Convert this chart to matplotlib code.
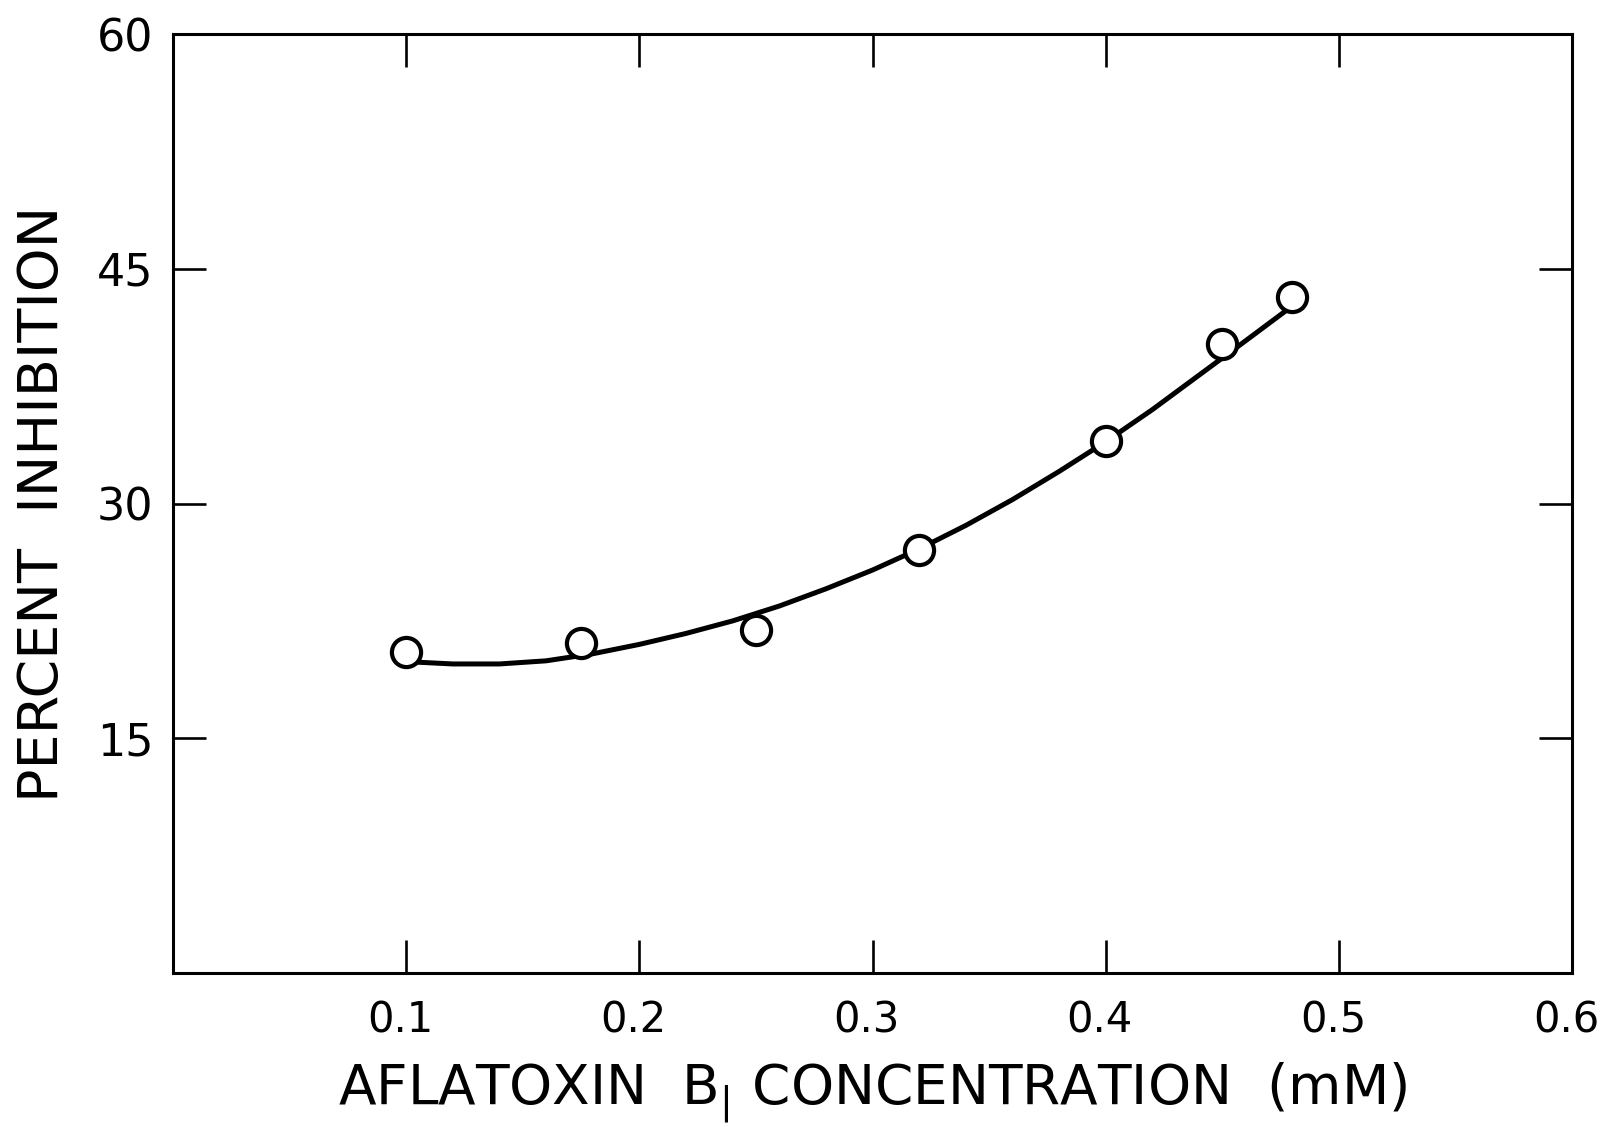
import matplotlib
matplotlib.use("Agg")
import matplotlib.pyplot as plt
from matplotlib.transforms import ScaledTranslation

plt.rcParams["font.family"] = ["DejaVu Sans"]
plt.rcParams["mathtext.default"] = "regular"

# Measured inhibition at each aflatoxin B1 concentration
conc_mM = [0.10, 0.175, 0.25, 0.32, 0.40, 0.45, 0.48]
inhibition_pct = [20.5, 21.1, 21.9, 27.0, 34.0, 40.2, 43.2]

# Hand-drawn trend curve through the measurements
curve_x = [0.10, 0.12, 0.14, 0.16, 0.18, 0.20, 0.22, 0.24, 0.26, 0.28, 0.30,
           0.32, 0.34, 0.36, 0.38, 0.40, 0.42, 0.44, 0.46, 0.478]
curve_y = [19.9, 19.75, 19.75, 19.95, 20.4, 21.0, 21.7, 22.5, 23.45, 24.55, 25.75,
           27.1, 28.6, 30.25, 32.05, 33.95, 36.0, 38.2, 40.4, 42.4]

x_ticks = [0.1, 0.2, 0.3, 0.4, 0.5, 0.6]
x_tick_labels = ["0.1", "0.2", "0.3", "0.4", "0.5", "0.6"]
y_ticks = [15, 30, 45, 60]
y_tick_labels = ["15", "30", "45", "60"]

fig = plt.figure(figsize=(16.03, 11.27), dpi=100)
ax = fig.add_axes([0.1079, 0.1366, 0.9807 - 0.1079, 0.9698 - 0.1366])

ax.plot(curve_x, curve_y, color="black", linewidth=3.6, solid_capstyle="round", zorder=2)
ax.plot(conc_mM, inhibition_pct, linestyle="none", marker="o", markersize=21,
        markerfacecolor="white", markeredgecolor="black", markeredgewidth=3.0, zorder=3)

ax.set_xlim(0, 0.6)
ax.set_ylim(0, 60)
ax.set_xticks(x_ticks)
ax.set_xticklabels(x_tick_labels)
ax.set_yticks(y_ticks)
ax.set_yticklabels(y_tick_labels)

ax.tick_params(axis="both", which="major", direction="in", length=24, width=1.9,
               top=True, right=True, color="black")
ax.tick_params(axis="x", pad=19, labelsize=30)
ax.tick_params(axis="y", pad=14, labelsize=32)

# nudge the x tick labels slightly left so the last one stays inside the figure
shift = ScaledTranslation(-6 / 100, 0, fig.dpi_scale_trans)
for lbl in ax.get_xticklabels():
    lbl.set_transform(lbl.get_transform() + shift)

for spine in ax.spines.values():
    spine.set_linewidth(2.2)
    spine.set_color("black")

ax.set_xlabel("AFLATOXIN  B$_{|}$ CONCENTRATION  (mM)", fontsize=39.5, va="baseline")
ax.xaxis.set_label_coords(0.5, -0.1395)
ax.set_ylabel("PERCENT  INHIBITION", fontsize=40, va="baseline", rotation_mode="anchor")
ax.yaxis.set_label_coords(-0.0822, 0.5)

fig.savefig("out.png", dpi=100, facecolor="white")
